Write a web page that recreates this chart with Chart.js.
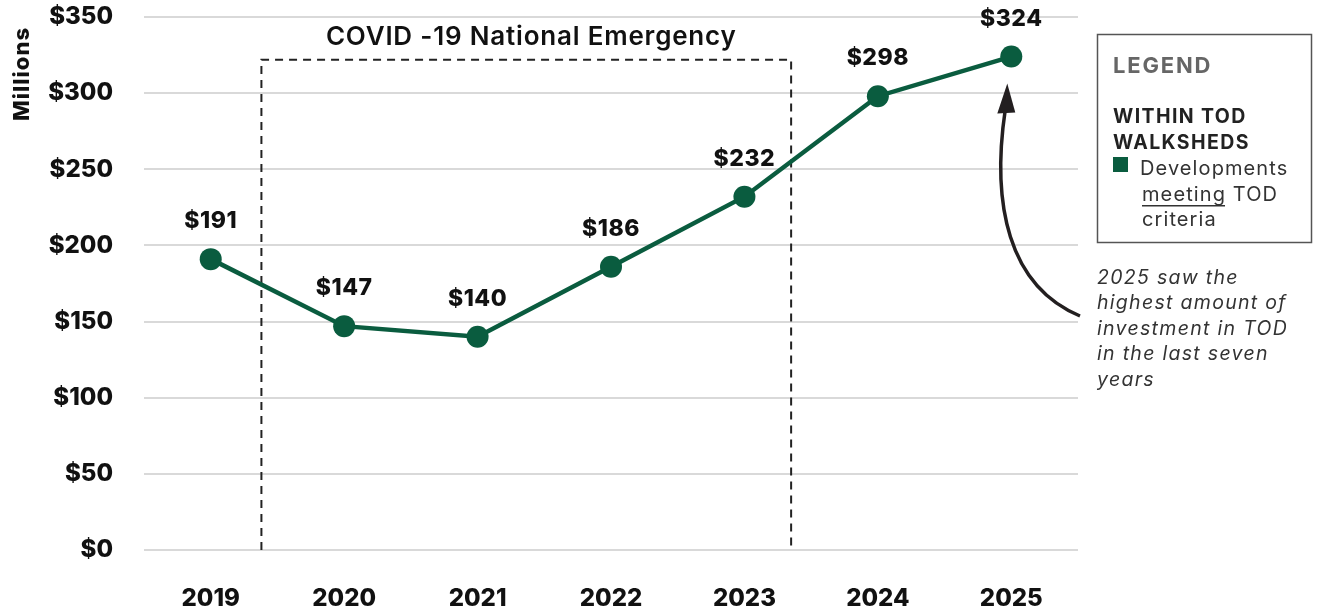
<!DOCTYPE html>
<html>
<head>
<meta charset="utf-8">
<script src="https://cdn.jsdelivr.net/npm/chart.js"></script>
<style>
  html, body { margin: 0; padding: 0; background: #fff; }
</style>
</head>
<body>
<canvas id="myChart" width="1322" height="609"></canvas>
<script>
  // data
  const years = ['2019', '2020', '2021', '2022', '2023', '2024', '2025'];
  const investment = [191, 147, 140, 186, 232, 298, 324];
  const yMin = 0, yMax = 350, yStep = 50;
  const yTitle = 'Millions';

  // COVID period, in category positions and value units
  const covidFrom = 0.38, covidTo = 4.35, covidTop = 322;
  const covidLabel = 'COVID -19 National Emergency';

  const legendTitle = 'LEGEND';
  const legendGroup = ['WITHIN TOD', 'WALKSHEDS'];
  const noteLines = ['2025 saw the', 'highest amount of', 'investment in TOD', 'in the last seven', 'years'];

  const green = '#0a5c3f';
  const font = 'Inter, "Noto Sans", sans-serif';

  const extras = {
    id: 'extras',
    beforeDatasetsDraw(chart) {
      const { ctx, scales: { x, y } } = chart;
      const l = x.getPixelForValue(covidFrom), r = x.getPixelForValue(covidTo);
      const t = y.getPixelForValue(covidTop), b = y.getPixelForValue(0);
      ctx.save();
      ctx.strokeStyle = '#222';
      ctx.lineWidth = 2;
      ctx.setLineDash([8, 6]);
      ctx.beginPath();
      ctx.moveTo(l, b);
      ctx.lineTo(l, t);
      ctx.lineTo(r, t);
      ctx.lineTo(r, b);
      ctx.stroke();
      ctx.setLineDash([]);
      ctx.fillStyle = '#111';
      ctx.font = '600 26px ' + font;
      ctx.letterSpacing = '0.8px';
      ctx.textAlign = 'center';
      ctx.textBaseline = 'middle';
      ctx.fillText(covidLabel, (l + r) / 2 + 5, t - 22);

      // y axis title, rotated, aligned to the top
      ctx.save();
      ctx.translate(x.left - 122, y.top + 10);
      ctx.rotate(-Math.PI / 2);
      ctx.textAlign = 'right';
      ctx.font = '800 22px ' + font;
      ctx.letterSpacing = '1px';
      ctx.fillText(yTitle, 0, 0);
      ctx.restore();
      ctx.restore();
    },
    afterDatasetsDraw(chart) {
      const { ctx, chartArea } = chart;
      const pts = chart.getDatasetMeta(0).data;
      ctx.save();
      // value labels
      ctx.fillStyle = '#111';
      ctx.font = '800 23px ' + font;
      ctx.letterSpacing = '0.5px';
      ctx.textAlign = 'center';
      ctx.textBaseline = 'middle';
      pts.forEach((p, i) => ctx.fillText('$' + investment[i], p.x, p.y - 38));

      // legend box
      const bx = chartArea.right + 19, by = 34;
      ctx.strokeStyle = '#555';
      ctx.lineWidth = 1.5;
      ctx.strokeRect(bx + 0.5, by + 0.5, 214, 208);
      ctx.textAlign = 'left';
      ctx.fillStyle = '#666';
      ctx.font = 'bold 22px ' + font;
      ctx.letterSpacing = '1.8px';
      ctx.fillText(legendTitle, bx + 16, by + 32);
      ctx.fillStyle = '#222';
      ctx.font = 'bold 19.5px ' + font;
      ctx.letterSpacing = '1.4px';
      ctx.fillText(legendGroup[0], bx + 16, by + 83);
      ctx.fillText(legendGroup[1], bx + 16, by + 109);
      ctx.fillStyle = green;
      ctx.fillRect(bx + 16, by + 123, 15, 15);
      ctx.fillStyle = '#333';
      ctx.font = '20px ' + font;
      ctx.letterSpacing = '1.1px';
      ctx.fillText(chart.data.datasets[0].label.split(' ')[0], bx + 43, by + 135);
      const mx = bx + 45, my = by + 161;
      ctx.fillText('meeting', mx, my);
      const mw = ctx.measureText('meeting').width;
      ctx.fillRect(mx, my + 10, mw - 1, 1.5);
      ctx.fillText(' TOD', mx + mw, my);
      ctx.fillText('criteria', mx, by + 186);

      // note text
      ctx.font = 'italic 19.5px ' + font;
      ctx.letterSpacing = '1.3px';
      noteLines.forEach((s, i) => ctx.fillText(s, bx, 278 + i * 25.5));

      // curved arrow to the 2025 point
      const last = pts[pts.length - 1];
      const tipX = last.x - 4, tipY = last.y + 27;
      const sx = bx - 17, sy = 316;
      ctx.strokeStyle = '#231f20';
      ctx.lineWidth = 3.5;
      ctx.beginPath();
      ctx.moveTo(sx, sy);
      ctx.bezierCurveTo(sx - 72, sy - 30, tipX - 16, tipY + 120, tipX - 2, tipY + 26);
      ctx.stroke();
      ctx.fillStyle = '#231f20';
      ctx.beginPath();
      ctx.moveTo(tipX, tipY);
      ctx.lineTo(tipX - 10, tipY + 30);
      ctx.lineTo(tipX + 8, tipY + 29);
      ctx.closePath();
      ctx.fill();
      ctx.restore();
    }
  };

  new Chart(document.getElementById('myChart'), {
    type: 'line',
    data: {
      labels: years,
      datasets: [{
        label: 'Developments meeting TOD criteria',
        data: investment,
        borderColor: green,
        backgroundColor: green,
        borderWidth: 4.5,
        pointRadius: 11,
        pointHoverRadius: 11,
        pointBorderWidth: 0,
        pointBackgroundColor: green,
        tension: 0
      }]
    },
    options: {
      responsive: false,
      animation: false,
      devicePixelRatio: 1,
      layout: { padding: { top: 17, right: 244, left: 0, bottom: 0 } },
      plugins: { legend: { display: false }, tooltip: { enabled: false } },
      scales: {
        x: {
          offset: true,
          grid: { display: false },
          border: { display: false },
          ticks: { color: '#111', font: { family: font, weight: 800, size: 24 }, padding: 26 },
          afterFit: s => { s.height = 59; s.paddingLeft = 0; s.paddingRight = 0; }
        },
        y: {
          min: yMin,
          max: yMax,
          grid: { color: '#d9d9d9', lineWidth: 2, drawTicks: false },
          border: { display: false },
          ticks: {
            stepSize: yStep,
            padding: 31,
            color: '#111',
            font: { family: font, weight: 800, size: 24 },
            callback: v => '$' + v
          },
          afterFit: s => { s.width = 144; s.paddingTop = 0; s.paddingBottom = 0; }
        }
      }
    },
    plugins: [extras]
  });
</script>
</body>
</html>
